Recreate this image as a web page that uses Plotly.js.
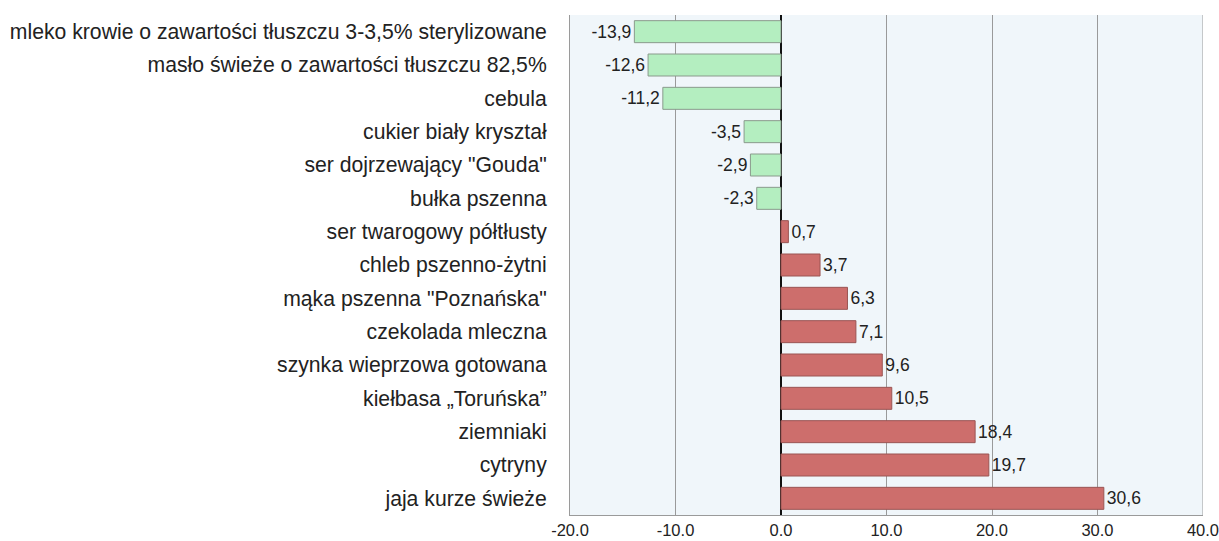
<!DOCTYPE html>
<html>
<head>
<meta charset="utf-8">
<script src="https://cdn.plot.ly/plotly-3.0.1.min.js"></script>
<style>html,body{margin:0;padding:0;background:#fff;}#chart{width:1219px;height:541px;}</style>
</head>
<body>
<div id="chart"></div>
<script>
var categories = [
  'mleko krowie o zawartości tłuszczu 3-3,5% sterylizowane',
  'masło świeże o zawartości tłuszczu 82,5%',
  'cebula',
  'cukier biały kryształ',
  'ser dojrzewający "Gouda"',
  'bułka pszenna',
  'ser twarogowy półtłusty',
  'chleb pszenno-żytni',
  'mąka pszenna "Poznańska"',
  'czekolada mleczna',
  'szynka wieprzowa gotowana',
  'kiełbasa „Toruńska”',
  'ziemniaki',
  'cytryny',
  'jaja kurze świeże'
];
var values = [-13.9, -12.6, -11.2, -3.5, -2.9, -2.3, 0.7, 3.7, 6.3, 7.1, 9.6, 10.5, 18.4, 19.7, 30.6];
var xTicks = [-20, -10, 0, 10, 20, 30, 40];
var xTickLabels = ['-20.0', '-10.0', '0.0', '10.0', '20.0', '30.0', '40.0'];

var fills = values.map(function(v){ return v < 0 ? '#b4eec0' : '#cd6e6c'; });
var lines = values.map(function(v){ return v < 0 ? '#8a9a8c' : '#9a5553'; });
var texts = values.map(function(v){ return v.toFixed(1).replace('.', ','); });

var trace = {
  type: 'bar',
  orientation: 'h',
  x: values,
  y: categories,
  text: texts,
  textposition: 'outside',
  constraintext: 'none',
  cliponaxis: false,
  textfont: {family: 'Liberation Sans, Arial, sans-serif', size: 17.5, color: '#222'},
  marker: {color: fills, line: {color: lines, width: 1}},
  hoverinfo: 'x+y'
};

var layout = {
  width: 1219, height: 541,
  margin: {l: 570, r: 16, t: 15, b: 26, pad: 0},
  paper_bgcolor: '#ffffff',
  plot_bgcolor: '#f0f6fa',
  bargap: 0.34,
  showlegend: false,
  font: {family: 'Liberation Sans, Arial, sans-serif', color: '#222'},
  xaxis: {
    range: [-20, 40],
    tickmode: 'array',
    tickvals: xTicks,
    ticktext: xTickLabels,
    ticklabeloverflow: 'allow',
    tickfont: {size: 16.5, color: '#222'},
    showgrid: true, gridcolor: '#9a9a9a', gridwidth: 1,
    zeroline: true, zerolinecolor: '#111', zerolinewidth: 2,
    showline: true, linecolor: '#9a9a9a', linewidth: 1,
    ticks: '', fixedrange: true
  },
  yaxis: {
    autorange: 'reversed',
    tickfont: {size: 21.2, color: '#222'},
    showgrid: false, zeroline: false,
    showline: true, linecolor: '#9a9a9a', linewidth: 1,
    ticks: '', ticklabelstandoff: 18, fixedrange: true
  },
  shapes: [{type: 'line', xref: 'x', yref: 'paper', x0: 40, x1: 40, y0: 0, y1: 1,
            line: {color: '#9a9a9a', width: 1}, layer: 'below'}]
};

Plotly.newPlot('chart', [trace], layout, {displayModeBar: false, staticPlot: true});
</script>
</body>
</html>
